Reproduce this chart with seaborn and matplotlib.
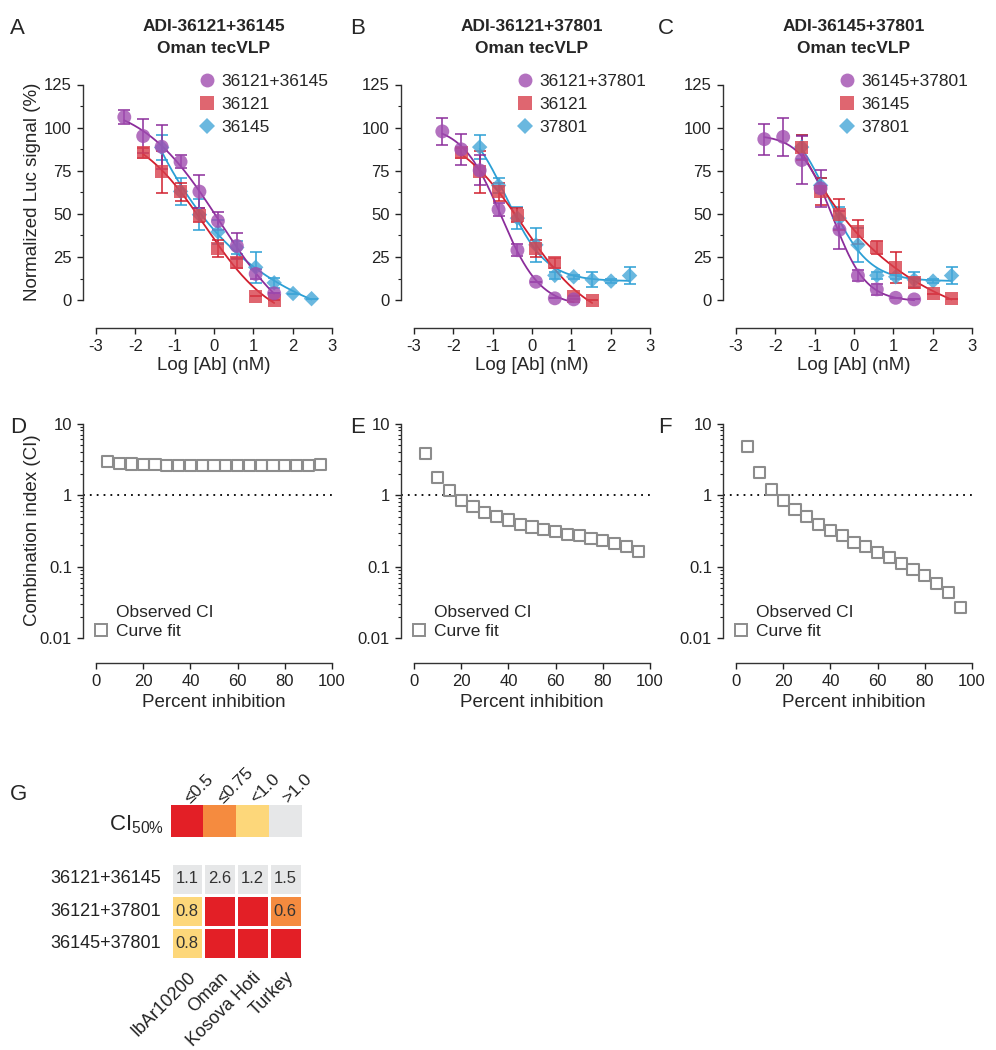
import matplotlib
matplotlib.use("Agg")
import numpy as np
import matplotlib.pyplot as plt
import seaborn as sns
from matplotlib.colors import ListedColormap
from matplotlib.lines import Line2D
from matplotlib.ticker import NullFormatter, FixedLocator


# Dose-response data (log nM, 3-fold dilutions)
log_dose = [-2.28, -1.80, -1.33, -0.85, -0.37, 0.10, 0.58, 1.06, 1.53, 2.01, 2.48]

# single mAbs (first dose index given separately)
mab_36121 = [85.3, 74.3, 62.7, 49.2, 29.9, 21.6, 2.3, 0.0]
mab_36121_sd = [3.0, 12.0, 5.0, 4.0, 4.8, 3.0, 0.0, 0.0]
mab_36145 = [88.5, 63.0, 49.5, 39.5, 30.5, 19.0, 10.0, 3.8, 0.8]
mab_36145_sd = [7.5, 8.0, 9.0, 7.0, 4.0, 9.0, 3.0, 0.0, 0.0]
mab_37801 = [88.7, 66.5, 47.5, 32.0, 14.3, 13.5, 11.8, 11.0, 14.2]
mab_37801_sd = [6.8, 4.5, 6.5, 10.0, 2.0, 1.0, 4.4, 1.0, 4.8]

# combinations
combo_36121_36145 = [106.1, 95.1, 88.9, 80.2, 62.9, 45.9, 31.4, 15.2, 3.9]
combo_36121_36145_sd = [4.2, 10.0, 12.7, 3.7, 9.5, 5.2, 7.5, 3.0, 0.0]
combo_36121_37801 = [97.8, 87.4, 75.2, 52.5, 28.9, 10.6, 1.0, 0.4]
combo_36121_37801_sd = [7.7, 9.0, 8.7, 4.0, 3.5, 0.0, 0.0, 0.0]
combo_36145_37801 = [93.3, 94.6, 81.2, 64.8, 40.8, 14.2, 6.2, 1.3, 0.4]
combo_36145_37801_sd = [9.0, 10.8, 14.0, 10.8, 11.0, 3.0, 3.0, 0.0, 0.0]

# Combination index
pct_inhibition = [5, 10, 15, 20, 25, 30, 35, 40, 45, 50, 55, 60, 65, 70, 75, 80, 85, 90, 95]
ci_36121_36145 = [2.95, 2.8, 2.72, 2.68, 2.65, 2.63, 2.62, 2.61, 2.6, 2.6,
                  2.6, 2.6, 2.6, 2.6, 2.6, 2.6, 2.61, 2.62, 2.65]
ci_36121_37801 = [3.83, 1.77, 1.17, 0.85, 0.70, 0.58, 0.50, 0.45, 0.39, 0.36,
                  0.33, 0.31, 0.28, 0.27, 0.25, 0.23, 0.21, 0.19, 0.165]
ci_36145_37801 = [4.74, 2.05, 1.21, 0.85, 0.63, 0.50, 0.39, 0.32, 0.27, 0.22,
                  0.19, 0.16, 0.135, 0.11, 0.092, 0.076, 0.059, 0.044, 0.027]

# CI50 heatmap
strains = ["IbAr10200", "Oman", "Kosova Hoti", "Turkey"]
combos = ["36121+36145", "36121+37801", "36145+37801"]
ci50_labels = [["1.1", "2.6", "1.2", "1.5"],
               ["0.8", "", "", "0.6"],
               ["0.8", "", "", ""]]
ci50_class = [[3, 3, 3, 3],
              [2, 0, 0, 1],
              [2, 0, 0, 0]]
ci_classes = ["≤0.5", "≤0.75", "<1.0", ">1.0"]
class_colors = ["#E31F26", "#F58B3F", "#FDD77A", "#E6E7E8"]


PURPLE = ("#A04DB0", "#8B2D9B")
RED = ("#D8404C", "#D11F2E")
BLUE = ("#45A7D8", "#2B9FD5")


def f4pl(p, x):
    return p[1] + (p[0] - p[1]) / (1 + 10 ** (p[3] * (x - p[2])))


def fit_4pl(x, y):
    x = np.asarray(x, float)
    y = np.asarray(y, float)
    mid = (y.max() + y.min()) / 2
    p = np.array([y.max(), y.min(), x[np.argmin(np.abs(y - mid))], 1.0])
    sse = lambda q: np.sum((y - f4pl(q, x)) ** 2)
    lam = 1e-3
    for _ in range(400):
        r = y - f4pl(p, x)
        J = np.empty((len(x), 4))
        for k in range(4):
            d = np.zeros(4)
            d[k] = 1e-6
            J[:, k] = (f4pl(p + d, x) - f4pl(p - d, x)) / 2e-6
        A = J.T @ J
        step = np.linalg.solve(A + lam * np.diag(np.diag(A)) + 1e-9 * np.eye(4), J.T @ r)
        if sse(p + step) < sse(p):
            p = p + step
            lam = max(lam * 0.3, 1e-9)
        else:
            lam *= 10
    return p


sns.set_style("ticks")
plt.rcParams["font.family"] = ["Liberation Sans", "DejaVu Sans"]
plt.rcParams["mathtext.default"] = "regular"
plt.rcParams["axes.unicode_minus"] = False
plt.rcParams["axes.linewidth"] = 1.0
plt.rcParams["xtick.major.width"] = 1.0
plt.rcParams["ytick.major.width"] = 1.0
plt.rcParams["ytick.minor.width"] = 0.8
plt.rcParams["xtick.major.size"] = 4.5
plt.rcParams["ytick.major.size"] = 4.5
plt.rcParams["ytick.minor.size"] = 2.5
plt.rcParams["xtick.color"] = "#222222"
plt.rcParams["ytick.color"] = "#222222"
plt.rcParams["axes.edgecolor"] = "#333333"

W, H = 996, 1050
fig = plt.figure(figsize=(W / 100, H / 100), dpi=100)


def add_axes(x, y, w, h):
    return fig.add_axes([x / W, 1 - (y + h) / H, w / W, h / H])


spine_x = [83, 401, 723]

# series: (values, sd, first dose index, colors, marker, size, label)
top_panels = [
    ("ADI-36121+36145\nOman tecVLP", [
        (mab_36145, mab_36145_sd, 2, BLUE, "D", 62, "36145"),
        (mab_36121, mab_36121_sd, 1, RED, "s", 88, "36121"),
        (combo_36121_36145, combo_36121_36145_sd, 0, PURPLE, "o", 100, "36121+36145"),
    ]),
    ("ADI-36121+37801\nOman tecVLP", [
        (mab_37801, mab_37801_sd, 2, BLUE, "D", 62, "37801"),
        (mab_36121, mab_36121_sd, 1, RED, "s", 88, "36121"),
        (combo_36121_37801, combo_36121_37801_sd, 0, PURPLE, "o", 100, "36121+37801"),
    ]),
    ("ADI-36145+37801\nOman tecVLP", [
        (mab_37801, mab_37801_sd, 2, BLUE, "D", 62, "37801"),
        (mab_36145, mab_36145_sd, 2, RED, "s", 88, "36145"),
        (combo_36145_37801, combo_36145_37801_sd, 0, PURPLE, "o", 100, "36145+37801"),
    ]),
]

letters_top = ["A", "B", "C"]
letters_bot = ["D", "E", "F"]
letter_x = [10, 350, 658]

for i, (title, series) in enumerate(top_panels):
    ax = add_axes(spine_x[i], 84.5, 249, 243.5)
    handles = []
    for vals, sd, start, cols, mk, size, lab in series:
        x = np.array(log_dose[start:start + len(vals)])
        y = np.array(vals)
        p = fit_4pl(x, y)
        xs = np.linspace(x[0], x[-1], 200)
        sns.lineplot(x=xs, y=f4pl(p, xs), color=cols[1], lw=1.3, ax=ax, zorder=2)
        ax.errorbar(x, y, yerr=sd, fmt="none", ecolor=cols[1], elinewidth=1.1,
                    capsize=4, capthick=1.1, zorder=2)
        sns.scatterplot(x=x, y=y, marker=mk, s=size, color=cols[0], alpha=0.8,
                        edgecolor="none", ax=ax, zorder=3, clip_on=False)
        handles.append(Line2D([], [], ls="none", marker=mk, color=cols[0], alpha=0.8,
                              markersize=np.sqrt(size), markeredgewidth=0, label=lab))
    handles = handles[::-1]
    ax.legend(handles=handles, loc="upper left", bbox_to_anchor=(0.465, 1.045),
              frameon=False, fontsize=12.5, handlelength=1.0, handletextpad=0.3,
              labelspacing=0.45, borderpad=0, borderaxespad=0)
    ax.set_xlim(-3.33, 3.0)
    ax.set_ylim(-16.2, 125)
    ax.set_xticks(range(-3, 4))
    ax.set_yticks([0, 25, 50, 75, 100, 125])
    ax.yaxis.set_minor_locator(FixedLocator(np.arange(12.5, 125, 25)))
    ax.tick_params(labelsize=12)
    sns.despine(ax=ax)
    ax.spines["left"].set_bounds(0, 125)
    ax.spines["bottom"].set_bounds(-3, 3)
    ax.set_xlabel("Log [Ab] (nM)", fontsize=13.5)
    ax.xaxis.set_label_coords(0.526, -0.12)
    if i == 0:
        ax.set_ylabel("Normalized Luc signal (%)", fontsize=13.5)
        ax.yaxis.set_label_coords(-0.17, 0.56)
    else:
        ax.set_ylabel("")
    ax.text(0.526, 1 + 29 / 243.5, title, transform=ax.transAxes, ha="center",
            va="bottom", fontsize=12.5, fontweight="bold", linespacing=1.55)
    fig.text(letter_x[i] / W, 1 - 28 / H, letters_top[i], fontsize=16, va="center")

ci_sets = [ci_36121_36145, ci_36121_37801, ci_36145_37801]
minor_log = [m * 10.0 ** e for e in (-2, -1, 0) for m in range(2, 10)]
for i, ci in enumerate(ci_sets):
    ax = add_axes(spine_x[i], 423.5, 249, 239.5)
    ax.axhline(1, color="black", lw=1.3, ls=(0, (1, 2.8)), zorder=1)
    sns.scatterplot(x=pct_inhibition, y=ci, marker="s", s=64, facecolor="none",
                    edgecolor="#8C8C8C", linewidth=1.5, ax=ax, zorder=3, clip_on=False)
    ax.set_yscale("log")
    ax.set_xlim(-5.5, 100)
    ax.set_ylim(10 ** -2.342, 10)
    ax.set_xticks([0, 20, 40, 60, 80, 100])
    ax.yaxis.set_major_locator(FixedLocator([0.01, 0.1, 1, 10]))
    ax.set_yticklabels(["0.01", "0.1", "1", "10"])
    ax.yaxis.set_minor_locator(FixedLocator(minor_log))
    ax.yaxis.set_minor_formatter(NullFormatter())
    ax.tick_params(labelsize=12)
    sns.despine(ax=ax)
    ax.spines["left"].set_bounds(0.01, 10)
    ax.spines["bottom"].set_bounds(0, 100)
    ax.set_xlabel("Percent inhibition", fontsize=13.5)
    ax.xaxis.set_label_coords(0.526, -0.13)
    if i == 0:
        ax.set_ylabel("Combination index (CI)", fontsize=13.5)
        ax.yaxis.set_label_coords(-0.17, 0.555)
    else:
        ax.set_ylabel("")
    h_obs = Line2D([], [], ls="none", marker=None, label="Observed CI")
    h_fit = Line2D([], [], ls="none", marker="s", markersize=8, markerfacecolor="none",
                   markeredgecolor="#8C8C8C", markeredgewidth=1.4, label="Curve fit")
    ax.legend(handles=[h_obs, h_fit], loc="lower left", bbox_to_anchor=(0.045, 0.1),
              frameon=False, fontsize=12.5, handlelength=0.8, handletextpad=0.45,
              labelspacing=0.2, borderpad=0, borderaxespad=0)
    fig.text(letter_x[i] / W, 1 - 428 / H, letters_bot[i], fontsize=16, va="center")

# G: CI50 heatmap
fig.text(10 / W, 1 - 795 / H, "G", fontsize=16, va="center")

cmap = ListedColormap(class_colors)
axb = add_axes(170.7, 805, 131, 32.3)
sns.heatmap([[0, 1, 2, 3]], cmap=cmap, vmin=-0.5, vmax=3.5, cbar=False, ax=axb,
            xticklabels=ci_classes, yticklabels=False)
axb.xaxis.tick_top()
axb.tick_params(length=0, pad=3)
for t in axb.get_xticklabels():
    t.set_rotation(45)
    t.set_ha("left")
    t.set_va("center")
    t.set_rotation_mode("anchor")
    t.set_fontsize(12.5)
axb.set_ylabel(r"CI$_{50\%}$", fontsize=16, rotation=0, ha="right", va="center")
axb.yaxis.set_label_coords(-0.05, 0.4)

axh = add_axes(170.7, 862.7, 131, 96.6)
sns.heatmap(np.array(ci50_class), cmap=cmap, vmin=-0.5, vmax=3.5, cbar=False, ax=axh,
            annot=np.array(ci50_labels), fmt="", linewidths=2, linecolor="white",
            annot_kws={"size": 12, "color": "#333333"},
            xticklabels=strains, yticklabels=combos)
axh.tick_params(length=0, pad=7)
for t in axh.get_yticklabels():
    t.set_rotation(0)
    t.set_fontsize(13)
for t in axh.get_xticklabels():
    t.set_rotation(45)
    t.set_ha("right")
    t.set_va("top")
    t.set_rotation_mode("anchor")
    t.set_fontsize(13)

fig.savefig("out.png", dpi=100)
